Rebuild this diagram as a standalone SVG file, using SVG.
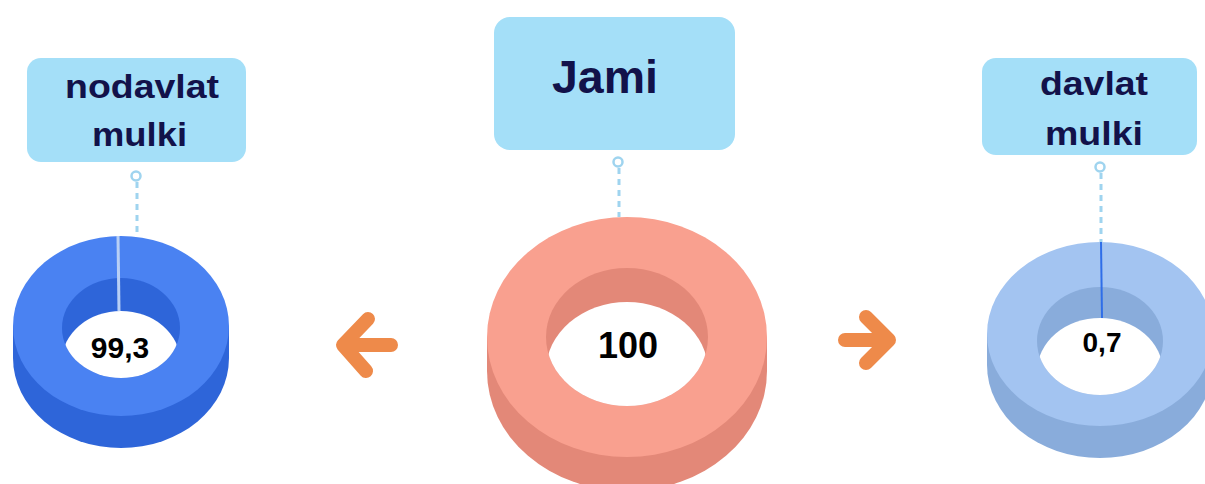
<svg xmlns="http://www.w3.org/2000/svg" width="1205" height="484" viewBox="0 0 1205 484">
<style>
.lbl{fill:#a4dff8}
.lt{font-family:"Liberation Sans",Arial,sans-serif;font-weight:bold;fill:#12124a}
.val{font-family:"Liberation Sans",Arial,sans-serif;font-weight:bold;fill:#000;text-anchor:middle}
.dash{stroke:#9fd4ef;stroke-width:3;stroke-dasharray:6 5;fill:none}
.ring{stroke:#9fd4ef;stroke-width:2.5;fill:#fff}
.arr{stroke:#ee8a4a;stroke-width:14;stroke-linecap:round;stroke-linejoin:round;fill:none}
</style>
<defs>
<clipPath id="cL"><ellipse cx="121" cy="328" rx="59" ry="50"/></clipPath>
<clipPath id="cC"><ellipse cx="627" cy="337" rx="81" ry="69"/></clipPath>
<clipPath id="cR"><ellipse cx="1100" cy="341" rx="63" ry="54"/></clipPath>
</defs>
<rect width="1205" height="484" fill="#fff"/>

<g id="connectors">
<circle class="ring" cx="136" cy="176" r="4.5"/>
<line class="dash" x1="137" y1="182" x2="137" y2="236"/>
<circle class="ring" cx="618" cy="162" r="4.5"/>
<line class="dash" x1="619" y1="168" x2="619" y2="217"/>
<circle class="ring" cx="1100" cy="167" r="4.5"/>
<line class="dash" x1="1101" y1="173" x2="1101" y2="242"/>
<path class="arr" d="M391 345 L346 345 M368 319 L343 345 L366 371"/>
<path class="arr" d="M845 340 L886 340 M866 317 L889 340 L866 363"/>
</g>

<g id="label-nodavlat">
<rect class="lbl" x="27" y="58" width="219" height="104" rx="14"/>
<text class="lt" x="65" y="98" font-size="34" textLength="154" lengthAdjust="spacingAndGlyphs">nodavlat</text>
<text class="lt" x="92" y="146" font-size="34" textLength="95" lengthAdjust="spacingAndGlyphs">mulki</text>
</g>

<g id="label-jami">
<rect class="lbl" x="494" y="17" width="241" height="133" rx="16"/>
<text class="lt" x="552" y="93" font-size="46" textLength="106" lengthAdjust="spacingAndGlyphs">Jami</text>
</g>

<g id="label-davlat">
<rect class="lbl" x="982" y="58" width="215" height="97" rx="14"/>
<text class="lt" x="1040" y="95" font-size="34" textLength="108" lengthAdjust="spacingAndGlyphs">davlat</text>
<text class="lt" x="1045" y="145" font-size="34" textLength="98" lengthAdjust="spacingAndGlyphs">mulki</text>
</g>

<g id="donut-left">
<ellipse cx="121" cy="358" rx="108" ry="90" fill="#2e65d9"/>
<rect x="13" y="326" width="216" height="32" fill="#2e65d9"/>
<ellipse cx="121" cy="326" rx="108" ry="90" fill="#4a82f2"/>
<ellipse cx="121" cy="328" rx="59" ry="50" fill="#2e65d9"/>
<ellipse cx="121" cy="361" rx="59" ry="50" fill="#fff" clip-path="url(#cL)"/>
<line x1="118" y1="236" x2="119" y2="311" stroke="#b8cff5" stroke-width="3"/>
<text class="val" x="120" y="358" font-size="30">99,3</text>
</g>

<g id="donut-center">
<ellipse cx="627" cy="371" rx="140" ry="120" fill="#e38878"/>
<rect x="487" y="337" width="280" height="34" fill="#e38878"/>
<ellipse cx="627" cy="337" rx="140" ry="120" fill="#f9a08f"/>
<ellipse cx="627" cy="337" rx="81" ry="69" fill="#e38878"/>
<ellipse cx="627" cy="371" rx="81" ry="69" fill="#fff" clip-path="url(#cC)"/>
<text class="val" x="628" y="358" font-size="36">100</text>
</g>

<g id="donut-right">
<ellipse cx="1100" cy="365" rx="113" ry="93" fill="#89acdb"/>
<rect x="987" y="334" width="226" height="31" fill="#89acdb"/>
<ellipse cx="1100" cy="334" rx="113" ry="92" fill="#a3c4f1"/>
<ellipse cx="1100" cy="341" rx="63" ry="54" fill="#89acdb"/>
<ellipse cx="1100" cy="372" rx="63" ry="54" fill="#fff" clip-path="url(#cR)"/>
<line x1="1101" y1="242" x2="1102" y2="318" stroke="#2f6ee8" stroke-width="2"/>
<text class="val" x="1102" y="352" font-size="28">0,7</text>
</g>
</svg>
